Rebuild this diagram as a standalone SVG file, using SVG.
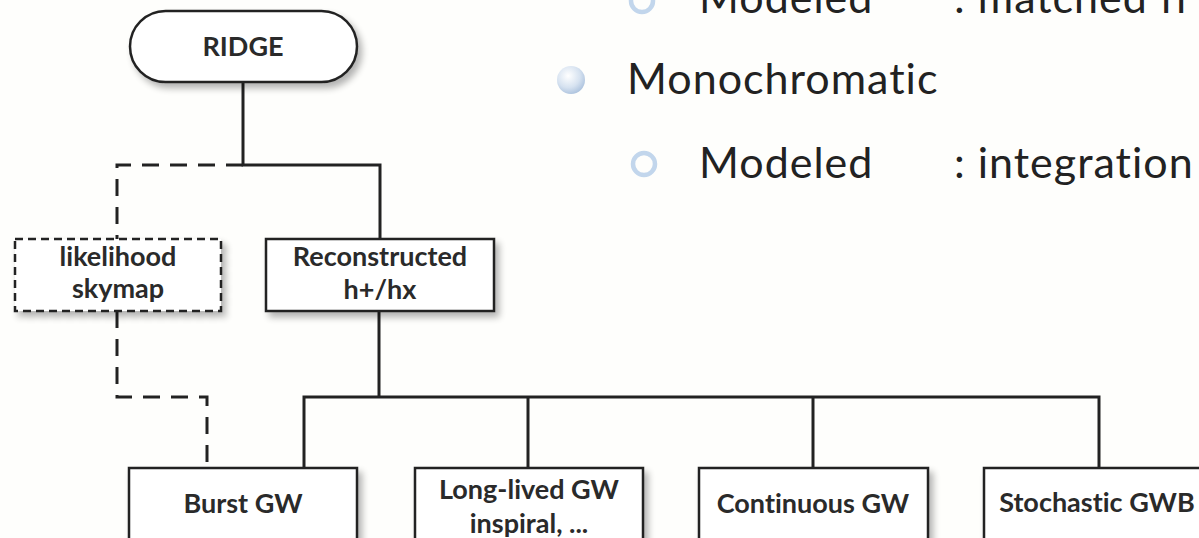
<svg xmlns="http://www.w3.org/2000/svg" width="1199" height="538" viewBox="0 0 1199 538">
<style>
.box{fill:#fff;stroke:#222;stroke-width:2.5;filter:url(#sh)}
.dbox{fill:#fff;stroke:#222;stroke-width:2.5;stroke-dasharray:8 5;filter:url(#sh)}
.lbl{font-family:Lato,"Open Sans",sans-serif;font-weight:bold;font-size:27px;fill:#2a2a2a;text-anchor:middle;font-variant-ligatures:none}
.big{font-family:Lato,"Open Sans",sans-serif;font-size:43px;letter-spacing:1px;fill:#222;font-variant-ligatures:none}
.ln{fill:none;stroke:#222;stroke-width:3;stroke-linejoin:miter}
.dl{fill:none;stroke:#222;stroke-width:3;stroke-dasharray:17 11}
</style>
<defs>
<filter id="sh" x="-10%" y="-10%" width="130%" height="140%">
<feGaussianBlur in="SourceAlpha" stdDeviation="3.5"/>
<feOffset dx="4" dy="5"/>
<feComponentTransfer><feFuncA type="linear" slope="0.3"/></feComponentTransfer>
<feMerge><feMergeNode/><feMergeNode in="SourceGraphic"/></feMerge>
</filter>
<radialGradient id="sph" cx="0.4" cy="0.35" r="0.7">
<stop offset="0" stop-color="#ffffff"/>
<stop offset="0.6" stop-color="#d6e2f0"/>
<stop offset="1" stop-color="#a9c0dc"/>
</radialGradient>
</defs>
<rect width="1199" height="538" fill="#fefefc"/>

<g id="connectors">
<path class="ln" d="M243 82 V165 H380 V239"/>
<path class="dl" d="M243 165 H117 V239"/>
<path class="dl" d="M117 311 V397 H207 V468"/>
<path class="ln" d="M379 311 V397"/>
<path class="ln" d="M304 468 V397 H1099 V468"/>
<path class="ln" d="M528 397 V468"/>
<path class="ln" d="M813 397 V468"/>
</g>

<g id="ridge">
<rect class="box" x="130" y="11" width="227" height="71" rx="35.5"/>
<text class="lbl" x="243" y="56">RIDGE</text>
</g>
<g id="likelihood">
<rect class="dbox" x="15" y="239" width="206" height="72"/>
<text class="lbl" x="118" y="266">likelihood</text>
<text class="lbl" x="118" y="298">skymap</text>
</g>
<g id="reconstructed">
<rect class="box" x="266" y="239" width="228" height="72"/>
<text class="lbl" x="380" y="266">Reconstructed</text>
<text class="lbl" x="380" y="299">h+/hx</text>
</g>
<g id="burst">
<rect class="box" x="129" y="468" width="228" height="80"/>
<text class="lbl" x="243" y="513">Burst GW</text>
</g>
<g id="longlived">
<rect class="box" x="415" y="468" width="228" height="80"/>
<text class="lbl" x="529" y="499">Long-lived GW</text>
<text class="lbl" x="529" y="533">inspiral, ...</text>
</g>
<g id="continuous">
<rect class="box" x="699" y="468" width="229" height="80"/>
<text class="lbl" x="813" y="513">Continuous GW</text>
</g>
<g id="stochastic">
<rect class="box" x="984" y="468" width="229" height="80"/>
<text class="lbl" x="1097" y="512">Stochastic GWB</text>
</g>

<g id="bullets">
<circle cx="642" cy="1" r="11" fill="none" stroke="#c2d6ec" stroke-width="4.5"/>
<text class="big" x="699" y="13">Modeled</text>
<text class="big" x="954" y="13">: matched fi</text>
<circle cx="571" cy="80" r="14" fill="url(#sph)"/>
<text class="big" x="627" y="94">Monochromatic</text>
<circle cx="644" cy="164" r="11" fill="none" stroke="#c2d6ec" stroke-width="4.5"/>
<text class="big" x="699" y="178">Modeled</text>
<text class="big" x="954" y="178">: integration</text>
</g>
</svg>
